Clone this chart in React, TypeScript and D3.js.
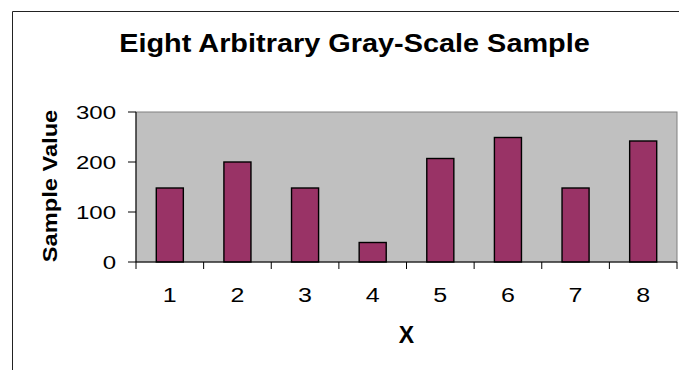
import React from "react";
import * as d3 from "d3";

// Sample data
const categories: string[] = ["1", "2", "3", "4", "5", "6", "7", "8"];
const sampleValues: number[] = [148, 200, 148, 39, 207, 249, 148, 242];
const yTicks: number[] = [0, 100, 200, 300];

const chartTitle = "Eight Arbitrary Gray-Scale Sample";
const xTitle = "X";
const yTitle = "Sample Value";

const W = 679;
const H = 370;
const plot = { left: 136, right: 677, top: 112, bottom: 262 };
const FONT = "'Liberation Sans', Arial, Helvetica, sans-serif";

export default function App() {
  const x = d3
    .scaleBand<string>()
    .domain(categories)
    .range([plot.left, plot.right])
    .paddingInner(0.6)
    .paddingOuter(0.3);
  const step = x.step();
  const y = d3.scaleLinear().domain([0, 300]).range([plot.bottom, plot.top]);

  const boundaries = d3.range(categories.length + 1).map((i) => plot.left + i * step);

  return (
    <svg
      width={W}
      height={H}
      style={{ position: "fixed", left: 0, top: 0, background: "#ffffff" }}
    >
      <rect x={0} y={0} width={W} height={H} fill="#ffffff" />
      {/* chart frame (left and top edges visible) */}
      <path d={`M12.5,${H + 2} V11.5 H${W + 2}`} fill="none" stroke="#222" strokeWidth={1} />

      {/* title */}
      <text
        transform={`translate(354.5,52.3) scale(1.09,1)`}
        textAnchor="middle"
        fontFamily={FONT}
        fontWeight="bold"
        fontSize={26.5}
        fill="#000"
      >
        {chartTitle}
      </text>

      {/* plot area */}
      <rect
        x={plot.left}
        y={plot.top}
        width={plot.right - plot.left}
        height={plot.bottom - plot.top}
        fill="#c0c0c0"
        stroke="#808080"
        strokeWidth={1}
      />

      {/* bars */}
      {sampleValues.map((v, i) => (
        <rect
          key={categories[i]}
          x={x(categories[i])!}
          y={y(v)}
          width={x.bandwidth()}
          height={y(0) - y(v)}
          fill="#993366"
          stroke="#000"
          strokeWidth={1.4}
        />
      ))}

      {/* y axis */}
      <line x1={plot.left} x2={plot.left} y1={plot.top} y2={plot.bottom} stroke="#000" strokeWidth={1} />
      {yTicks.map((t) => (
        <g key={t}>
          <line x1={plot.left - 8} x2={plot.left} y1={y(t)} y2={y(t)} stroke="#000" strokeWidth={1} />
          <text
            transform={`translate(116,${y(t) + 7}) scale(1.32,1)`}
            textAnchor="end"
            fontFamily={FONT}
            fontSize={18.2}
            fill="#000"
          >
            {t}
          </text>
        </g>
      ))}

      {/* x axis */}
      <line x1={plot.left} x2={plot.right} y1={plot.bottom} y2={plot.bottom} stroke="#000" strokeWidth={1} />
      {boundaries.map((bx, i) => (
        <line key={i} x1={bx} x2={bx} y1={plot.bottom} y2={plot.bottom + 7} stroke="#000" strokeWidth={1} />
      ))}
      {categories.map((c) => (
        <text
          key={c}
          transform={`translate(${x(c)! + x.bandwidth() / 2},302.3) scale(1.22,1)`}
          textAnchor="middle"
          fontFamily={FONT}
          fontSize={20.5}
          fill="#000"
        >
          {c}
        </text>
      ))}

      {/* axis titles */}
      <text
        x={(plot.left + plot.right) / 2}
        y={342.7}
        textAnchor="middle"
        fontFamily={FONT}
        fontWeight="bold"
        fontSize={23}
        fill="#000"
      >
        {xTitle}
      </text>
      <text
        transform={`translate(57.3,${(plot.top + plot.bottom) / 2 - 1}) rotate(-90) scale(1.16,1)`}
        textAnchor="middle"
        fontFamily={FONT}
        fontWeight="bold"
        fontSize={20.4}
        fill="#000"
      >
        {yTitle}
      </text>
    </svg>
  );
}
